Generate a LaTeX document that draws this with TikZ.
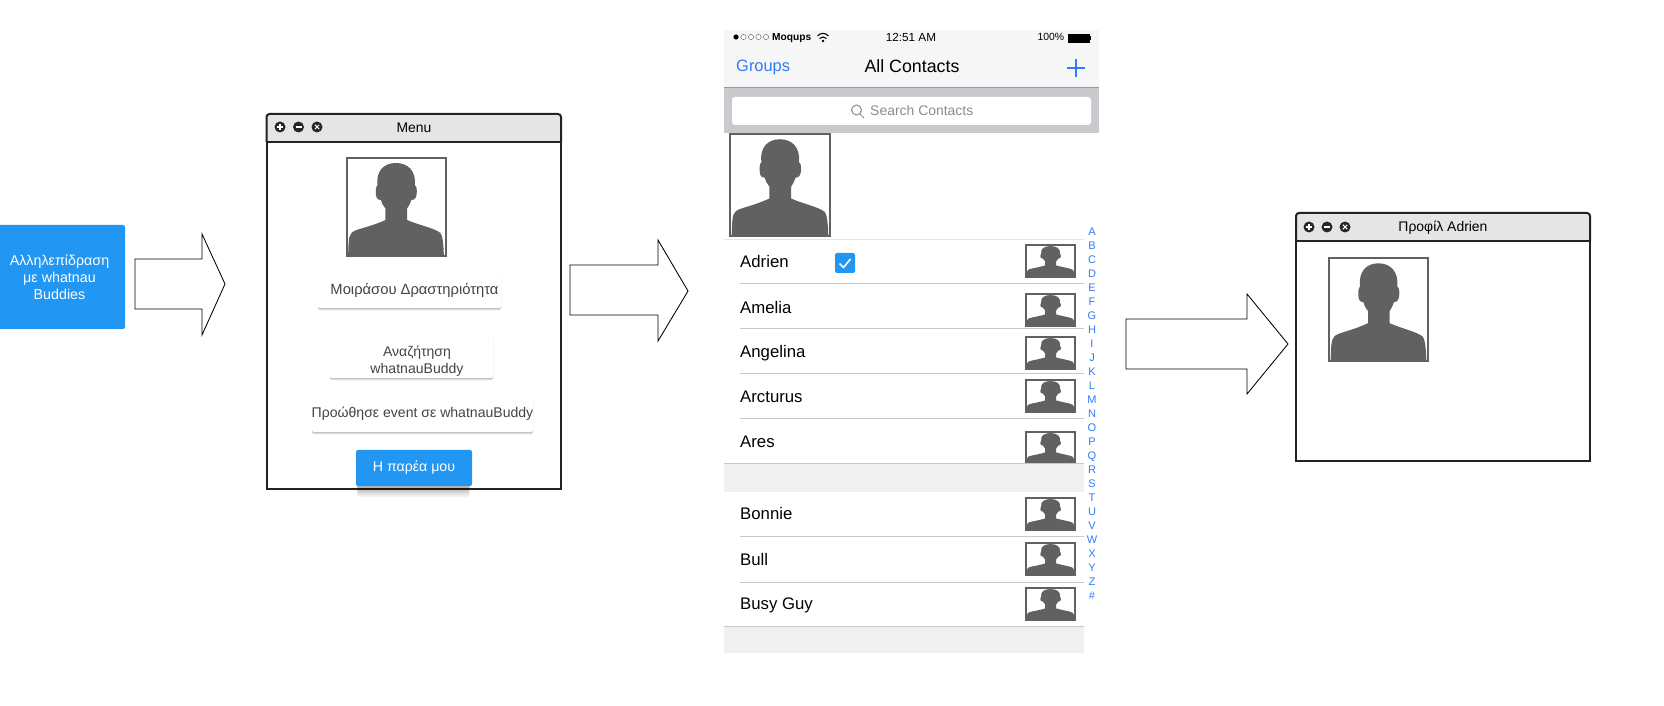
\documentclass[tikz,border=0pt]{standalone}
\usepackage{xcolor}
\usepackage{fontspec}
\setmainfont{Liberation Sans}
\usepackage{tikz}
\usetikzlibrary{shadows}
\definecolor{actionblue}{HTML}{2196F3}
\definecolor{iosblue}{HTML}{2F7CF6}
\definecolor{barfill}{HTML}{F6F6F6}
\definecolor{searchfill}{HTML}{C9C9CE}
\definecolor{rowline}{HTML}{C8C8C8}
\definecolor{bandfill}{HTML}{F0F0F0}
\definecolor{chromefill}{HTML}{E5E5E5}
\definecolor{inkdark}{HTML}{222222}
\definecolor{cardink}{HTML}{444444}
\definecolor{portrait}{HTML}{616161}
\newcommand{\px}{0.3mm}
\newcommand{\fsz}[1]{\fontsize{#1}{#1}\selectfont}
% portrait frame with silhouette: name, left, top, right, bottom
\newcommand{\avatarframe}[5]{%
  \node[avatarbox, minimum width={(#4-#2-2)*\px}, minimum height={(#5-#3-2)*\px}] (#1) at ({(#2+#4)/2},{(#3+#5)/2}) {};
  \begin{scope}[shift={(#2,#3)}, xscale={#4-#2}, yscale={#5-#3}]
    \fill[portrait] (.026,.99) .. controls (.03,.86) and (.03,.79) .. (.06,.76)
      .. controls (.09,.72) and (.22,.71) .. (.396,.63) -- (.396,.515)
      .. controls (.37,.49) and (.36,.46) .. (.35,.43)
      .. controls (.31,.43) and (.30,.40) .. (.30,.35)
      .. controls (.30,.30) and (.31,.29) .. (.317,.28)
      .. controls (.30,.14) and (.38,.06) .. (.498,.06)
      .. controls (.62,.06) and (.70,.14) .. (.686,.28)
      .. controls (.70,.29) and (.706,.30) .. (.706,.35)
      .. controls (.706,.40) and (.69,.43) .. (.653,.43)
      .. controls (.64,.46) and (.63,.49) .. (.61,.515) -- (.61,.63)
      .. controls (.72,.68) and (.88,.71) .. (.94,.76)
      .. controls (.96,.79) and (.97,.86) .. (.974,.99) -- cycle;
  \end{scope}}
\begin{document}
\begin{tikzpicture}[
  x=\px, y=-\px,
  font=\fsz{12},
  avatarbox/.style={draw=portrait, line width=2*\px, fill=white, inner sep=0pt, outer sep=0pt},
  blockarrow/.style={draw=black, line width=.85*\px, fill=white, line join=miter},
  actionbox/.style={fill=actionblue, text=white, rounded corners=2*\px, inner sep=0pt, align=center},
  cardbox/.style={fill=white, rounded corners=2*\px, inner sep=0pt,
    drop shadow={shadow xshift=0pt, shadow yshift=-2.2pt, opacity=.05, fill=black},
    drop shadow={shadow xshift=0pt, shadow yshift=-1.5pt, opacity=.09, fill=black},
    drop shadow={shadow xshift=0pt, shadow yshift=-.8pt, opacity=.12, fill=black}},
  softshadow/.style={drop shadow={shadow scale=.97, shadow xshift=-.5pt, shadow yshift=-#1pt, opacity=.055, fill=black}},
  cardtext/.style={text=cardink, align=center, inner sep=0pt},
  winframe/.style={draw=inkdark, line width=2*\px},
  wintitle/.style={font=\fsz{11.9}, text=black, inner sep=0pt},
  ctrlbtn/.style={circle, fill=black!85, minimum size=11*\px, inner sep=0pt},
  addbtn/.style={ctrlbtn, path picture={\draw[white, line width=.9pt]
    ([xshift=-3*\px]path picture bounding box.center) -- ([xshift=3*\px]path picture bounding box.center)
    ([yshift=-3*\px]path picture bounding box.center) -- ([yshift=3*\px]path picture bounding box.center);}},
  subbtn/.style={ctrlbtn, path picture={\draw[white, line width=.9pt]
    ([xshift=-3*\px]path picture bounding box.center) -- ([xshift=3*\px]path picture bounding box.center);}},
  closebtn/.style={ctrlbtn, path picture={\draw[white, line width=.9pt]
    ([shift={(-2.2*\px,-2.2*\px)}]path picture bounding box.center) -- ([shift={(2.2*\px,2.2*\px)}]path picture bounding box.center)
    ([shift={(-2.2*\px,2.2*\px)}]path picture bounding box.center) -- ([shift={(2.2*\px,-2.2*\px)}]path picture bounding box.center);}},
  rowname/.style={anchor=west, inner sep=0pt, font=\fsz{14.3}, text=black},
  statustext/.style={inner sep=0pt, text=black},
  sepline/.style={draw=rowline, line width=1*\px},
  signaldot/.style={draw=black!55, line width=.5*\px, fill=white}
]
\useasboundingbox (0,0) rectangle (1664,706);
% ---------------- start box and first arrow ----------------
\node[actionbox, minimum width=131*\px, minimum height=104*\px, font=\fsz{12.2}] (startBox) at (59.5,277) {Αλληλεπίδραση\\[2.3pt]με whatnau\\[2.3pt]Buddies};
\draw[blockarrow] (135,259) -- (202,259) -- (202,234) -- (225,284) -- (202,335) -- (202,309) -- (135,309) -- cycle;
% ---------------- menu window ----------------
\fill[white] (266.5,142) rectangle (561,489);
\draw[winframe, fill=chromefill, rounded corners=3*\px] (266.5,142) -- (266.5,114) -- (561,114) -- (561,142);
\draw[winframe] (266.5,142) -- (266.5,489) -- (561,489) -- (561,142) -- cycle;
\node[addbtn] (menuAdd) at (280,127) {};
\node[subbtn] (menuSub) at (298.5,127) {};
\node[closebtn] (menuClose) at (317,127) {};
\node[wintitle] (menuTitle) at (414,128) {Menu};
\avatarframe{menuAvatar}{345.5}{157}{446.5}{257}
\node[cardbox, minimum width=183*\px, minimum height=35*\px] (shareCard) at (409.5,290.5) {};
\node[cardtext, font=\fsz{12.6}] (shareText) at (414.5,290.5) {Μοιράσου Δραστηριότητα};
\node[cardbox, minimum width=163*\px, minimum height=43*\px] (searchCard) at (411.5,356.5) {};
\node[cardtext, font=\fsz{12}] (searchText) at (417,361) {Αναζήτηση\\[2.7pt]whatnauBuddy};
\node[cardbox, minimum width=221*\px, minimum height=35*\px] (promoteCard) at (422.5,414.5) {};
\node[cardtext, font=\fsz{12}] (promoteText) at (422.5,414) {Προώθησε event σε whatnauBuddy};
\node[actionbox, minimum width=116*\px, minimum height=36*\px, font=\fsz{12.1},
  softshadow=10, softshadow=8.5, softshadow=7, softshadow=5.5, softshadow=4, softshadow=2.5] (friendsBtn) at (414,468) {\raisebox{-1pt}{Η παρέα μου}};
\draw[blockarrow] (570,265) -- (658,265) -- (658,240) -- (688,291) -- (658,341) -- (658,315) -- (570,315) -- cycle;
% ---------------- contacts phone screen ----------------
\fill[barfill] (724,30) rectangle (1099,88);
\fill[searchfill] (724,88) rectangle (1099,133);
\draw[sepline, draw=black!40] (724,88) -- (1099,88);
\fill[black] (736,37) circle[radius=2.6*\px];
\draw[signaldot] (743.5,37) circle[radius=2.6*\px] (751,37) circle[radius=2.6*\px] (758.5,37) circle[radius=2.6*\px] (766,37) circle[radius=2.6*\px];
\node[statustext, anchor=west, font=\fsz{8.7}\bfseries] (carrier) at (772,37.8) {Moqups};
\draw[black, line width=1.1*\px] (817.5,36) .. controls (820.5,32.5) and (825.5,32.5) .. (828.5,36) (819.5,38.5) .. controls (821.5,36.5) and (824.5,36.5) .. (826.5,38.5);
\fill[black] (823,41) circle[radius=1.3*\px];
\node[statustext, font=\fsz{10}] (clock) at (911,37) {12:51 AM};
\node[statustext, anchor=east, font=\fsz{8.9}] (percent) at (1064.5,37) {100\%};
\draw[black, line width=.6*\px, fill=black] (1068,34) rectangle (1089,42);
\fill[black] (1089.5,36) rectangle (1091,40);
\node[statustext, anchor=west, text=iosblue, font=\fsz{14}] (groups) at (736,67) {Groups};
\node[statustext, font=\fsz{15.2}] (allContacts) at (912,66) {All Contacts};
\draw[iosblue, line width=1.2*\px] (1067,68) -- (1085,68) (1076,59) -- (1076,77);
\node[fill=white, rounded corners=3*\px, minimum width=359*\px, minimum height=28*\px, inner sep=0pt] (searchField) at (911.5,111) {};
\node[statustext, anchor=west, text=black!45, font=\fsz{11.9}] (searchHint) at (870,111) {Search Contacts};
\draw[black!45, line width=1*\px] (856.5,110) circle[radius=5*\px] (860,114) -- (864,118);
\avatarframe{bigAvatar}{729}{133}{831}{237}
% rows
\draw[sepline, draw=black!10] (724,240) -- (1084,240);
\node[rowname] (adrien) at (740,262) {Adrien};
\node[fill=actionblue, rounded corners=2*\px, minimum size=20*\px, inner sep=0pt] (tick) at (845,263) {};
\draw[white, line width=1.6*\px] (839.5,263.5) -- (843.5,267.5) -- (850.5,259);
\avatarframe{adrienFace}{1025}{244}{1076}{278}
\draw[sepline] (740,284) -- (1084,284);
\node[rowname] (amelia) at (740,308) {Amelia};
\avatarframe{ameliaFace}{1025}{293}{1076}{327}
\draw[sepline] (740,329) -- (1084,329);
\node[rowname] (angelina) at (740,353) {Angelina};
\avatarframe{angelinaFace}{1025}{336}{1076}{370}
\draw[sepline] (740,374) -- (1084,374);
\node[rowname] (arcturus) at (740,397) {Arcturus};
\avatarframe{arcturusFace}{1025}{379}{1076}{413}
\draw[sepline] (740,419) -- (1084,419);
\node[rowname] (ares) at (740,442) {Ares};
\avatarframe{aresFace}{1025}{431}{1076}{465}
\fill[bandfill] (724,464) rectangle (1084,492);
\draw[sepline] (724,464) -- (1084,464);
\node[rowname] (bonnie) at (740,514) {Bonnie};
\avatarframe{bonnieFace}{1025}{497}{1076}{531}
\draw[sepline] (740,536) -- (1084,536);
\node[rowname] (bull) at (740,560) {Bull};
\avatarframe{bullFace}{1025}{542}{1076}{576}
\draw[sepline] (740,582) -- (1084,582);
\node[rowname] (busyGuy) at (740,605) {Busy Guy};
\avatarframe{busyFace}{1025}{587}{1076}{621}
\fill[bandfill] (724,626) rectangle (1084,653);
\draw[sepline] (724,626) -- (1084,626);
\node[inner sep=0pt, align=center, text=iosblue, font=\fontsize{9.4}{11.95}\selectfont] (azIndex) at (1092,414) {A\\B\\C\\D\\E\\F\\G\\H\\I\\J\\K\\L\\M\\N\\O\\P\\Q\\R\\S\\T\\U\\V\\W\\X\\Y\\Z\\\#};
% ---------------- profile window ----------------
\draw[blockarrow] (1126,319) -- (1247,319) -- (1247,294) -- (1288,344) -- (1247,394) -- (1247,369) -- (1126,369) -- cycle;
\fill[white] (1296,241) rectangle (1590,461);
\draw[winframe, fill=chromefill, rounded corners=3*\px] (1296,241) -- (1296,213) -- (1590,213) -- (1590,241);
\draw[winframe] (1296,241) -- (1296,461) -- (1590,461) -- (1590,241) -- cycle;
\node[addbtn] (profileAdd) at (1309,227) {};
\node[subbtn] (profileSub) at (1327,227) {};
\node[closebtn] (profileClose) at (1345,227) {};
\node[wintitle] (profileTitle) at (1443,228) {Προφίλ Adrien};
\avatarframe{profileAvatar}{1328}{257}{1429}{362}
\end{tikzpicture}
\end{document}
